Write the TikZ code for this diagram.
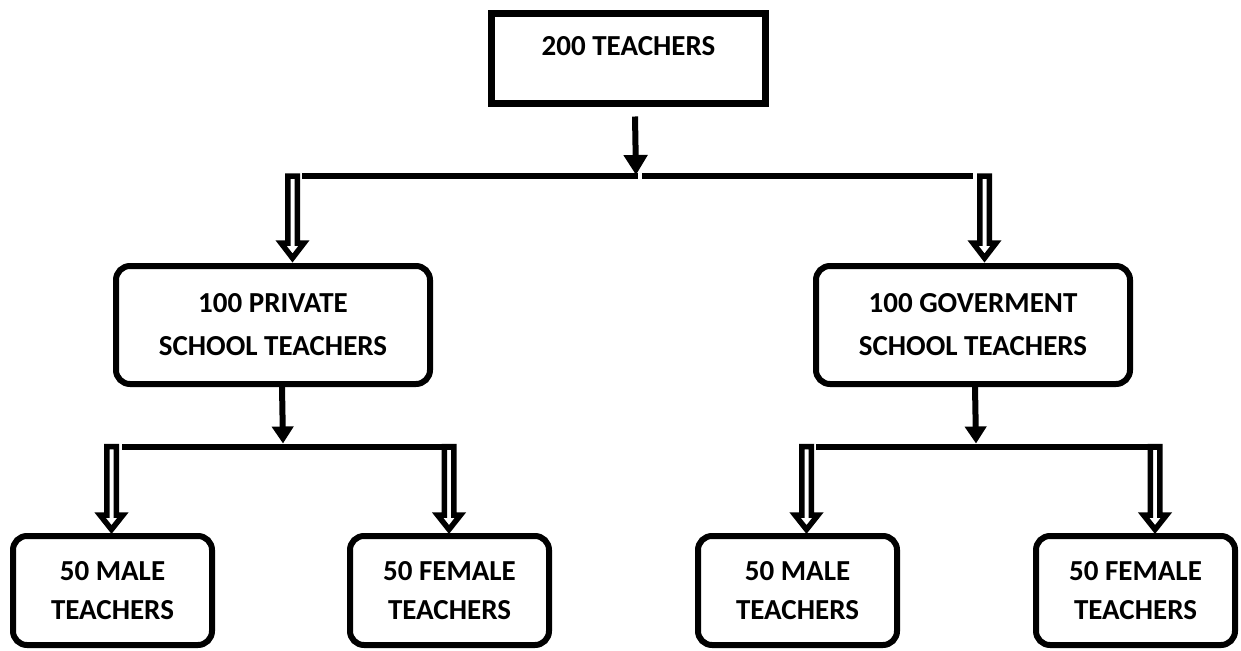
\documentclass[tikz,border=0pt]{standalone}
\usepackage{fontspec}
\setmainfont{Carlito}
\usetikzlibrary{arrows.meta,calc}
\newcommand\dblarr[3]{%
  \draw[dbl] (#1) ++(-4.75,0) -- ++(0,#2) -- ++(-6.75,0) -- ++(11.5,#3) -- ++(11.5,-#3) -- ++(-6.75,0) -- ++(0,-#2) -- cycle;}
\begin{document}
\begin{tikzpicture}[x=1pt,y=-1pt,
  txt/.style={inner sep=0pt, align=center, font=\bfseries\fontsize{29}{43}\selectfont},
  sqbox/.style={draw, line width=7pt, fill=white, inner sep=0pt, minimum width=274pt, minimum height=90pt},
  midbox/.style={draw, line width=6pt, fill=white, rounded corners=14pt, inner sep=0pt, align=center,
     minimum width=314pt, minimum height=118pt, font=\bfseries\fontsize{29}{43}\selectfont},
  botbox/.style={draw, line width=6pt, fill=white, rounded corners=14pt, inner sep=0pt, align=center,
     minimum width=199pt, minimum height=109pt, font=\bfseries\fontsize{29}{39}\selectfont},
  dbl/.style={line width=5.5pt, fill=white, line join=miter},
  bar/.style={line width=6pt},
  sarrow/.style={line width=6pt, -{Triangle[length=20pt,width=23pt]}},
  marrow/.style={line width=6pt, -{Triangle[length=17pt,width=21pt]}}]
\useasboundingbox (0,0) rectangle (1241,650);
% boxes
\node[sqbox] (top) at (628.5,58.5) {};
\node[txt] (toptext) at (628.5,46) {200 TEACHERS};
\node[midbox] (mid1) at (273,325) {100 PRIVATE\\SCHOOL TEACHERS};
\node[midbox] (mid2) at (973,325) {100 GOVERMENT\\SCHOOL TEACHERS};
\node[botbox] (bot1) at (112.5,590.5) {50 MALE\\TEACHERS};
\node[botbox] (bot2) at (449.5,590.5) {50 FEMALE\\TEACHERS};
\node[botbox] (bot3) at (797.5,590.5) {50 MALE\\TEACHERS};
\node[botbox] (bot4) at (1135.5,590.5) {50 FEMALE\\TEACHERS};
% junction coordinates
\coordinate (j1) at (636,176);
\coordinate (L1) at (292.5,176);
\coordinate (R1) at (984.5,176);
\coordinate (j2) at (283,446.5);
\coordinate (A1) at (111.5,446.5);
\coordinate (A2) at (449,446.5);
\coordinate (j3) at (976,446.5);
\coordinate (B1) at (806.5,446.5);
\coordinate (B2) at (1155,446.5);
% double arrows
\dblarr{L1}{67}{15}
\dblarr{R1}{67}{15}
\dblarr{A1}{68.5}{14.5}
\dblarr{A2}{68.5}{14.5}
\dblarr{B1}{68.5}{14.5}
\dblarr{B2}{68.5}{14.5}
% bars
\draw[bar] ($(L1)+(9.5,0)$) -- ($(j1)+(2,0)$);
\draw[bar] ($(j1)+(6,0)$) -- ($(R1)+(-11.5,0)$);
\draw[bar] ($(A1)+(10.5,0)$) -- ($(A2)+(7,0)$);
\draw[bar] ($(B1)+(9.5,0)$) -- ($(B2)+(7,0)$);
% single arrows
\draw[sarrow] ($(top.south)+(6.5,9.5)$) -- ($(j1)+(0,-1)$);
\draw[marrow] ($(mid1.south)+(9,0)$) -- ($(j2)+(0,-3)$);
\draw[marrow] ($(mid2.south)+(2,0)$) -- ($(j3)+(0,-3)$);
\end{tikzpicture}
\end{document}
